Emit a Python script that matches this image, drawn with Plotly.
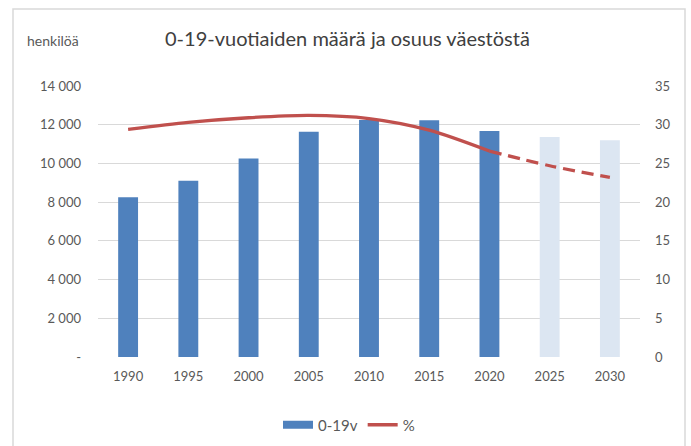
import plotly.graph_objects as go

years = ["1990", "1995", "2000", "2005", "2010", "2015", "2020", "2025", "2030"]
persons = [8250, 9100, 10250, 11640, 12250, 12230, 11680, 11370, 11200]
share = [29.4, 30.3, 30.9, 31.2, 30.8, 29.3, 26.6, 24.7, 23.2]
projected = [False, False, False, False, False, False, False, True, True]
left_ticks = [0, 2000, 4000, 6000, 8000, 10000, 12000, 14000]
left_labels = ["-", "2 000", "4 000", "6 000", "8 000", "10 000", "12 000", "14 000"]
right_ticks = [0, 5, 10, 15, 20, 25, 30, 35]

DARK = "#4F81BD"
LIGHT = "#DCE6F2"
RED = "#C0504D"
GRID = "#D9D9D9"
TXT = "#595959"
FONT = "Lato"

bar_colors = [LIGHT if p else DARK for p in projected]
last_hist = max(i for i, p in enumerate(projected) if not p)

fig = go.Figure()
fig.add_trace(go.Bar(
    x=years, y=persons, name="0-19v",
    marker=dict(color=bar_colors, line=dict(width=0)),
    yaxis="y", showlegend=False,
))
# legend stand-in for the bar series (wide rectangle symbol)
fig.add_trace(go.Scatter(
    x=[None], y=[None], name="0-19v", mode="lines",
    line=dict(color=DARK, width=8), yaxis="y",
))
fig.add_trace(go.Scatter(
    x=years[:last_hist + 1], y=share[:last_hist + 1], name="%",
    mode="lines", line=dict(color=RED, width=3.3, shape="spline", smoothing=0.8),
    yaxis="y2",
))
fig.add_trace(go.Scatter(
    x=years[last_hist:], y=share[last_hist:], name="%",
    mode="lines", line=dict(color=RED, width=3.3, dash="12px,7px", shape="spline", smoothing=0.8),
    yaxis="y2", showlegend=False,
))

fig.update_layout(
    width=691, height=446,
    margin=dict(l=98, r=51, t=86, b=89, autoexpand=False),
    paper_bgcolor="white", plot_bgcolor="white",
    font=dict(family=FONT, color=TXT, size=13),
    bargap=0.67,
    showlegend=True,
    legend=dict(orientation="h", xref="container", yref="container",
                x=278 / 691, xanchor="left", y=1 - 425 / 446, yanchor="middle",
                font=dict(size=15, color=TXT), traceorder="normal", itemclick=False),
    xaxis=dict(type="category", showgrid=False, showline=False, ticks="", automargin=False,
               tickfont=dict(size=13, color=TXT), ticklabelstandoff=10),
    yaxis=dict(range=[0, 14000], tickvals=left_ticks, ticktext=left_labels, automargin=False,
               showgrid=True, gridcolor=GRID, gridwidth=1, zeroline=False,
               showline=False, ticks="", tickfont=dict(size=13, color=TXT),
               ticklabelstandoff=16),
    yaxis2=dict(range=[0, 35], tickvals=right_ticks, overlaying="y", side="right", automargin=False,
                showgrid=False, zeroline=False, showline=False, ticks="",
                tickfont=dict(size=13, color=TXT), ticklabelstandoff=14),
    shapes=[dict(type="rect", xref="paper", yref="paper",
                 x0=(13 - 98) / 542, x1=(685 - 98) / 542, y0=-100 / 271, y1=(357 - 9) / 271,
                 line=dict(color=GRID, width=1.5), fillcolor="rgba(0,0,0,0)", layer="below")],
    annotations=[
        dict(text="0-19-vuotiaiden määrä ja osuus väestöstä", xref="paper", yref="paper",
             x=(347 - 98) / 542, y=(357 - 38) / 271, xanchor="center", yanchor="middle",
             showarrow=False, font=dict(size=20, color="#404040", family=FONT)),
        dict(text="henkilöä", xref="paper", yref="paper",
             x=(25 - 98) / 542, y=(357 - 40) / 271, xanchor="left", yanchor="middle",
             showarrow=False, font=dict(size=14, color=TXT, family=FONT)),
    ],
)

fig.write_html("out.html", config={"displayModeBar": False},
               post_script="document.body.style.margin='0';")
